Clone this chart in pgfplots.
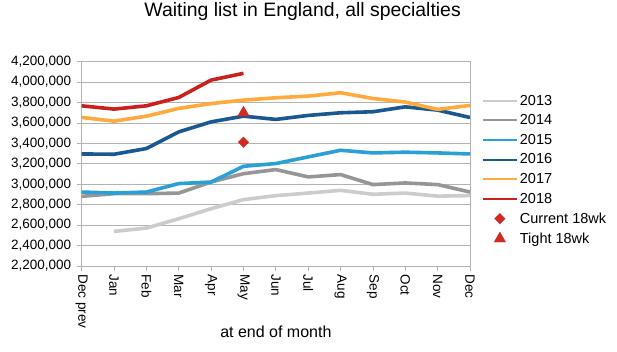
\documentclass[border=0pt]{standalone}
\usepackage{pgfplots}
\pgfplotsset{compat=1.18}
\usepackage{fontspec}
\setmainfont{Liberation Sans}
\definecolor{c13}{RGB}{204,204,204}
\definecolor{c14}{RGB}{150,150,150}
\definecolor{c15}{RGB}{42,160,214}
\definecolor{c16}{RGB}{26,88,145}
\definecolor{c17}{RGB}{255,170,60}
\definecolor{c18}{RGB}{201,33,30}
\definecolor{cmk}{RGB}{209,42,34}
\definecolor{gridc}{RGB}{179,179,179}
\begin{document}
\begin{tikzpicture}
\useasboundingbox (-81.7pt,-85pt) rectangle (535.3pt,266pt);
\begin{axis}[
  at={(0,0)}, anchor=south west,
  scale only axis, width=388.3pt, height=204.3pt,
  xmin=0, xmax=12, ymin=2200000, ymax=4200000,
  xtick={0,...,12},
  xticklabels={Dec prev,Jan,Feb,Mar,Apr,May,Jun,Jul,Aug,Sep,Oct,Nov,Dec},
  ytick={2200000,2400000,...,4200000},
  scaled y ticks=false,
  /pgf/number format/.cd, fixed, 1000 sep={,}, assume math mode=true, /pgfplots/.cd,
  tick align=outside, xtick pos=left, ytick pos=left,
  major tick length=5pt,
  tick style={gridc, line width=0.8pt},
  ymajorgrids, grid style={gridc, line width=0.8pt},
  axis line style={gridc, line width=0.8pt},
  ticklabel style={font=\fontsize{13.5}{15}\selectfont},
  xticklabel style={rotate=-90, anchor=west},
  yticklabel style={xshift=-2pt},
  title={Waiting list in England, all specialties},
  title style={at={(axis description cs:0.569,1)}, anchor=base, yshift=39pt, font=\fontsize{19.4}{21}\selectfont},
  xlabel={at end of month},
  xlabel style={at={(axis description cs:0.5,0)}, anchor=base, yshift=-71.3pt, font=\fontsize{16}{18}\selectfont},
  legend cell align=left,
  legend image code/.code={\draw[mark repeat=2,mark phase=2,#1,line width=2pt] plot coordinates {(0pt,0pt) (17pt,0pt) (34pt,0pt)};},
  legend style={at={(1,1)}, anchor=north west, xshift=11.7pt, yshift=-31pt, draw=none, fill=none,
    font=\fontsize{14.5}{16}\selectfont, row sep=4pt, inner sep=0pt},
  every axis plot/.append style={line width=3.6pt, line join=round},
]
\addplot[c13, no markers] coordinates {(1,2539000) (2,2571000) (3,2663000) (4,2761000) (5,2850000) (6,2889000) (7,2914000) (8,2941000) (9,2902000) (10,2914000) (11,2884000) (12,2889000)};
\addlegendentry{2013}
\addplot[c14, no markers] coordinates {(0,2882000) (1,2908000) (2,2908000) (3,2914000) (4,3022000) (5,3104000) (6,3144000) (7,3072000) (8,3095000) (9,2997000) (10,3013000) (11,2997000) (12,2924000)};
\addlegendentry{2014}
\addplot[c15, no markers] coordinates {(0,2924000) (1,2914000) (2,2924000) (3,3007000) (4,3022000) (5,3176000) (6,3203000) (7,3268000) (8,3333000) (9,3307000) (10,3314000) (11,3307000) (12,3297000)};
\addlegendentry{2015}
\addplot[c16, no markers] coordinates {(0,3297000) (1,3294000) (2,3350000) (3,3513000) (4,3611000) (5,3667000) (6,3635000) (7,3674000) (8,3700000) (9,3710000) (10,3758000) (11,3726000) (12,3654000)};
\addlegendentry{2016}
\addplot[c17, no markers] coordinates {(0,3654000) (1,3618000) (2,3667000) (3,3743000) (4,3790000) (5,3824000) (6,3847000) (7,3863000) (8,3896000) (9,3840000) (10,3805000) (11,3733000) (12,3772000)};
\addlegendentry{2017}
\addplot[c18, no markers] coordinates {(0,3768000) (1,3736000) (2,3768000) (3,3850000) (4,4020000) (5,4086000)};
\addlegendentry{2018}
\addplot[cmk, only marks, mark=square*, mark size=3.8pt, mark options={rotate=45, draw=cmk, fill=cmk, line width=0.1pt}] coordinates {(5,3412000)};
\addlegendentry{Current 18wk}
\addplot[cmk, only marks, mark=triangle*, mark size=6.8pt, mark options={draw=cmk, fill=cmk, line width=0.1pt}] coordinates {(5,3700000)};
\addlegendentry{Tight 18wk}
\end{axis}
\end{tikzpicture}
\end{document}
